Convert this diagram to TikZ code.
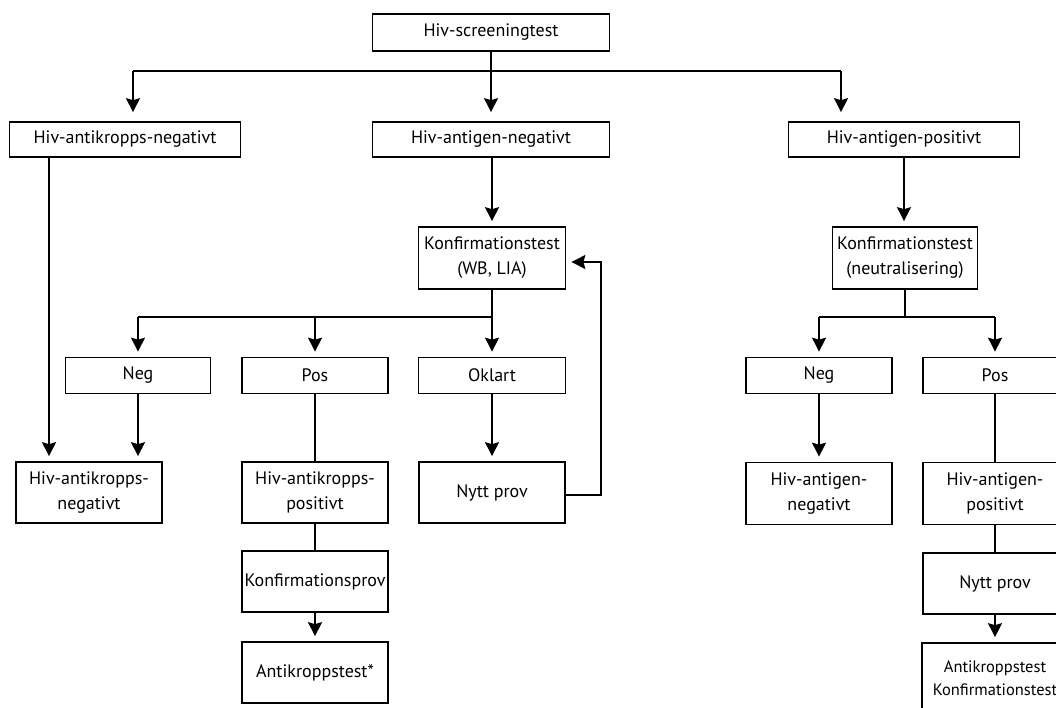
\documentclass[tikz,border=0pt]{standalone}
\usepackage{fontspec}
\setmainfont{PT Sans}
\usetikzlibrary{arrows.meta}
\begin{document}
\begin{tikzpicture}[x=1pt,y=-1pt,
  box/.style={draw,line width=1.7pt,inner sep=0pt,align=center,font=\fontsize{18}{25}\selectfont},
  arr/.style={line width=1.7pt,-{Stealth[length=14pt,width=14pt,inset=2pt]},shorten >=5pt},
  ln/.style={line width=1.7pt}]
\clip (0,0) rectangle (1056,707);
\fill[white] (0,0) rectangle (1056,707);
% row 0/1
\node[box,minimum width=237pt,minimum height=37pt] (scr) at (491,32.5) {Hiv-screeningtest};
\node[box,minimum width=231pt,minimum height=35pt] (abneg) at (125,139.5) {Hiv-antikropps-negativt};
\node[box,minimum width=237pt,minimum height=35pt] (agneg) at (491,139.5) {Hiv-antigen-negativt};
\node[box,minimum width=231pt,minimum height=35pt] (agpos) at (904,139.5) {Hiv-antigen-positivt};
% row 2
\node[box,minimum width=147pt,minimum height=62pt] (k1) at (492,258) {Konfirmationstest\\(WB, LIA)};
\node[box,minimum width=145pt,minimum height=62pt] (k2) at (905,258) {Konfirmationstest\\(neutralisering)};
% row 3
\node[box,minimum width=145pt,minimum height=36pt] (neg1) at (138,375.5) {Neg};
\node[box,minimum width=146pt,minimum height=36pt] (pos1) at (315,375.5) {Pos};
\node[box,minimum width=147pt,minimum height=36pt] (okl) at (492,375.5) {Oklart};
\node[box,minimum width=146pt,minimum height=36pt] (neg2) at (819,375.5) {Neg};
\node[box,minimum width=144pt,minimum height=36pt] (pos2) at (995,375.5) {Pos};
% row 4
\node[box,minimum width=146pt,minimum height=61pt] (abneg2) at (89,492.5) {Hiv-antikropps-\\negativt};
\node[box,minimum width=146pt,minimum height=61pt] (abpos) at (315,492.5) {Hiv-antikropps-\\positivt};
\node[box,minimum width=146pt,minimum height=61pt] (nytt1) at (492,492.5) {Nytt prov};
\node[box,minimum width=146pt,minimum height=62pt] (agneg2) at (819,493.5) {Hiv-antigen-\\negativt};
\node[box,minimum width=144pt,minimum height=62pt] (agpos2) at (995,493.5) {Hiv-antigen-\\positivt};
% row 5/6
\node[box,minimum width=146pt,minimum height=61pt] (kprov) at (315,581.5) {Konfirmationsprov};
\node[box,minimum width=146pt,minimum height=61pt] (akt) at (315,672.5) {Antikroppstest*};
\node[box,minimum width=144pt,minimum height=61pt] (nytt2) at (995,583.5) {Nytt prov};
\node[box,minimum width=146pt,minimum height=70pt,font=\fontsize{16.5}{23}\selectfont] (akt2) at (995,678) {Antikroppstest\\Konfirmationstest};
% connectors
\coordinate (b1) at (133,71);
\coordinate (b3) at (841,71);
\draw[ln] (b1) -- (b3);
\draw[ln] (scr.south) -- (scr.south |- b1);
\draw[arr,shorten >=9pt] (b1) -- (b1 |- abneg.north);
\draw[arr,shorten >=9pt] (scr.south |- b1) -- (agneg.north);
\draw[arr,shorten >=9pt] (b3) -- (b3 |- agpos.north);
\coordinate (l1) at (49,0);
\draw[arr] (abneg.south -| l1) -- (l1 |- abneg2.north);
\draw[arr] (agneg.south -| k1.north) -- (k1.north);
\coordinate (j1) at (492,317);
\draw[ln] (k1.south) -- (j1);
\draw[ln] (j1) -- (neg1.north |- j1);
\draw[arr] (neg1.north |- j1) -- (neg1.north);
\draw[arr] (pos1.north |- j1) -- (pos1.north);
\draw[arr] (j1) -- (okl.north);
\draw[arr] (neg1.south) -- (neg1.south |- abneg2.north);
\draw[ln] (pos1.south) -- (abpos.north);
\draw[ln] (abpos.south) -- (kprov.north);
\draw[arr] (kprov.south) -- (akt.north);
\draw[arr] (okl.south) -- (nytt1.north);
\coordinate (r1) at (601,495);
\coordinate (r2) at (601,262);
\draw[arr] (nytt1.east |- r1) -- (r1) -- (r2) -- (k1.east |- r2);
% right branch
\draw[arr] (agpos.south) -- (agpos.south |- k2.north);
\coordinate (j2) at (905,317);
\draw[ln] (k2.south) -- (j2);
\draw[ln] (neg2.north |- j2) -- (pos2.north |- j2);
\draw[arr] (neg2.north |- j2) -- (neg2.north);
\draw[arr] (pos2.north |- j2) -- (pos2.north);
\draw[arr] (neg2.south) -- (agneg2.north);
\draw[ln] (pos2.south) -- (agpos2.north);
\draw[ln] (agpos2.south) -- (nytt2.north);
\draw[arr] (nytt2.south) -- (akt2.north);
\end{tikzpicture}
\end{document}
